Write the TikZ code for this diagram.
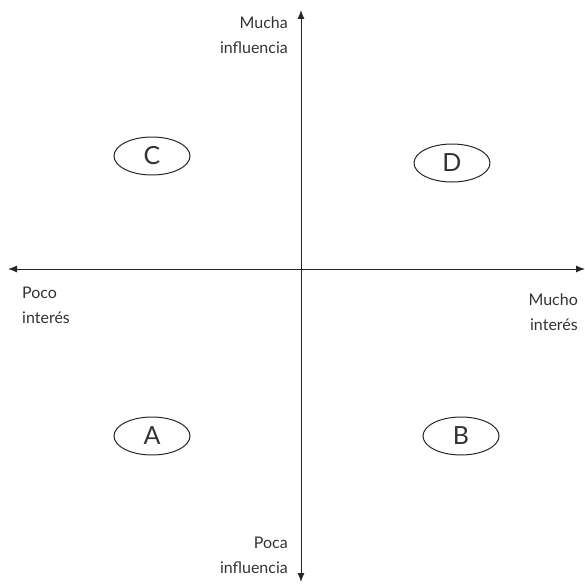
\documentclass[tikz,border=0pt]{standalone}
\usepackage{fontspec}
\setmainfont{Lato}
\usetikzlibrary{arrows.meta,shapes.geometric}
\begin{document}
\begin{tikzpicture}[x=1pt,y=-1pt,
  axis/.style={line width=1pt,draw=black!85,-{Latex[length=9pt,width=7pt]}},
  ell/.style={ellipse,draw=black!85,line width=1pt,minimum width=76pt,minimum height=38pt,inner sep=0pt,font=\fontsize{25}{25}\selectfont,text=black!80},
  lab/.style={font=\fontsize{16}{25}\selectfont,text=black!80,inner sep=0pt}]
\useasboundingbox (0,0) rectangle (585,586);
\coordinate (top) at (301,10);
\coordinate (bot) at (301,582);
\coordinate (left) at (8,269);
\coordinate (right) at (585,269);
\coordinate (o) at (301,269);
\draw[axis] (o) -- (top);
\draw[axis] (o) -- (bot);
\draw[axis] (o) -- (left);
\draw[axis] (o) -- (right);
\node[ell] (C) at (152,156) {C};
\node[ell] (D) at (452,163) {D};
\node[ell] (A) at (152,436) {A};
\node[ell] (B) at (461,436) {B};
\node[lab,align=right,anchor=north east] (mi) at (288,17) {Mucha\\influencia};
\node[lab,align=left,anchor=north west] (pi) at (22,287) {Poco\\interés};
\node[lab,align=right,anchor=north east] (mh) at (578,294) {Mucho\\interés};
\node[lab,align=right,anchor=north east] (pa) at (288,537) {Poca\\influencia};
\end{tikzpicture}
\end{document}
